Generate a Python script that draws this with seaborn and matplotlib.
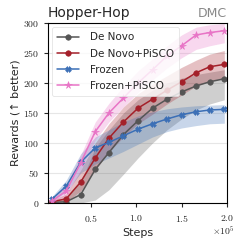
import pandas as pd
import matplotlib
matplotlib.use("Agg")
import matplotlib.pyplot as plt
import matplotlib.ticker as mticker
import seaborn as sns

# Data (Hopper-Hop, DMC)
steps = [7000, 23000, 39000, 55000, 70000, 86000, 102000, 118000,
         134000, 150000, 166000, 181000, 197000]

de_novo = [1, 2, 14, 56, 84, 114, 137, 158, 173, 185, 195, 202, 207]
de_novo_lo = [0, 0, 0, 5, 22, 48, 75, 100, 122, 140, 155, 165, 172]
de_novo_hi = [3, 8, 35, 92, 122, 150, 172, 188, 200, 208, 214, 218, 222]

de_novo_pisco = [2, 7, 35, 75, 108, 135, 158, 173, 188, 202, 217, 227, 231]
de_novo_pisco_lo = [0, 2, 20, 55, 85, 110, 132, 148, 165, 180, 195, 203, 208]
de_novo_pisco_hi = [5, 15, 55, 100, 132, 160, 182, 198, 212, 226, 238, 248, 254]

frozen = [6, 28, 68, 92, 101, 112, 123, 132, 140, 147, 152, 155, 156]
frozen_lo = [3, 18, 50, 65, 75, 86, 98, 110, 119, 125, 129, 132, 133]
frozen_hi = [10, 38, 82, 110, 122, 135, 145, 152, 157, 160, 162, 163, 164]

frozen_pisco = [3, 20, 67, 119, 150, 175, 200, 222, 245, 262, 280, 284, 287]
frozen_pisco_lo = [1, 12, 55, 105, 135, 160, 184, 205, 225, 242, 256, 262, 267]
frozen_pisco_hi = [6, 30, 80, 135, 166, 194, 220, 240, 262, 280, 293, 297, 299]

labels = ["De Novo", "De Novo+PiSCO", "Frozen", "Frozen+PiSCO"]
colors = ["#555555", "#a4202a", "#3b6fb6", "#e874c6"]
markers = ["o", "o", "X", "*"]
msizes = [4.0, 4.0, 4.0, 5.3]

sns.set_style("white")
plt.rcParams["mathtext.fontset"] = "cm"
plt.rcParams["font.family"] = ["DejaVu Sans"]

fig, ax = plt.subplots(figsize=(2.4, 2.44), dpi=100)
fig.subplots_adjust(left=0.2, right=0.946, top=0.906, bottom=0.168)

series = [
    (de_novo, de_novo_lo, de_novo_hi),
    (de_novo_pisco, de_novo_pisco_lo, de_novo_pisco_hi),
    (frozen, frozen_lo, frozen_hi),
    (frozen_pisco, frozen_pisco_lo, frozen_pisco_hi),
]

for (mean, lo, hi), lab, c, m, ms in zip(series, labels, colors, markers, msizes):
    ax.fill_between(steps, lo, hi, color=c, alpha=0.28, linewidth=0)
    df = pd.DataFrame({"Steps": steps, "Rewards": mean})
    sns.lineplot(data=df, x="Steps", y="Rewards", ax=ax, color=c, marker=m,
                 markersize=ms, markeredgewidth=0.4, markeredgecolor=c,
                 linewidth=1.1, label=lab, errorbar=None)

ax.set_xlim(3000, 200000)
ax.set_ylim(0, 300)
ax.set_xticks([50000, 100000, 150000, 200000])
ax.set_yticks([0, 50, 100, 150, 200, 250, 300])
ax.xaxis.set_major_formatter(mticker.FuncFormatter(lambda v, p: f"${v / 1e5:.1f}$"))
ax.yaxis.set_major_formatter(mticker.FuncFormatter(lambda v, p: f"${v:.0f}$"))
ax.tick_params(axis="both", labelsize=7, length=3, width=0.8, direction="out",
               bottom=True, left=True, pad=3)
ax.tick_params(axis="x", pad=4)
ax.text(1.04, -0.12, r"$\times 10^5$", transform=ax.transAxes, ha="right",
        va="top", fontsize=7)

ax.yaxis.grid(True, color="#e6e6e6", linewidth=0.8)
for s in ax.spines.values():
    s.set_color("black")
    s.set_linewidth(0.8)

ax.set_xlabel("Steps", fontsize=8, labelpad=3)
ax.set_ylabel("Rewards (↑ better)", fontsize=8, labelpad=2)
ax.set_title("Hopper-Hop", loc="left", fontsize=10, pad=4)
ax.set_title("DMC", loc="right", fontsize=9, color="#888888", pad=4)

leg = ax.legend(loc="upper left", fontsize=7.5, frameon=True, handlelength=2.1,
                borderaxespad=0.4, labelspacing=0.6, handletextpad=1.0,
                borderpad=0.5)
leg.get_frame().set_edgecolor("#dddddd")
leg.get_frame().set_linewidth(0.6)

fig.savefig("out.png", dpi=100)
